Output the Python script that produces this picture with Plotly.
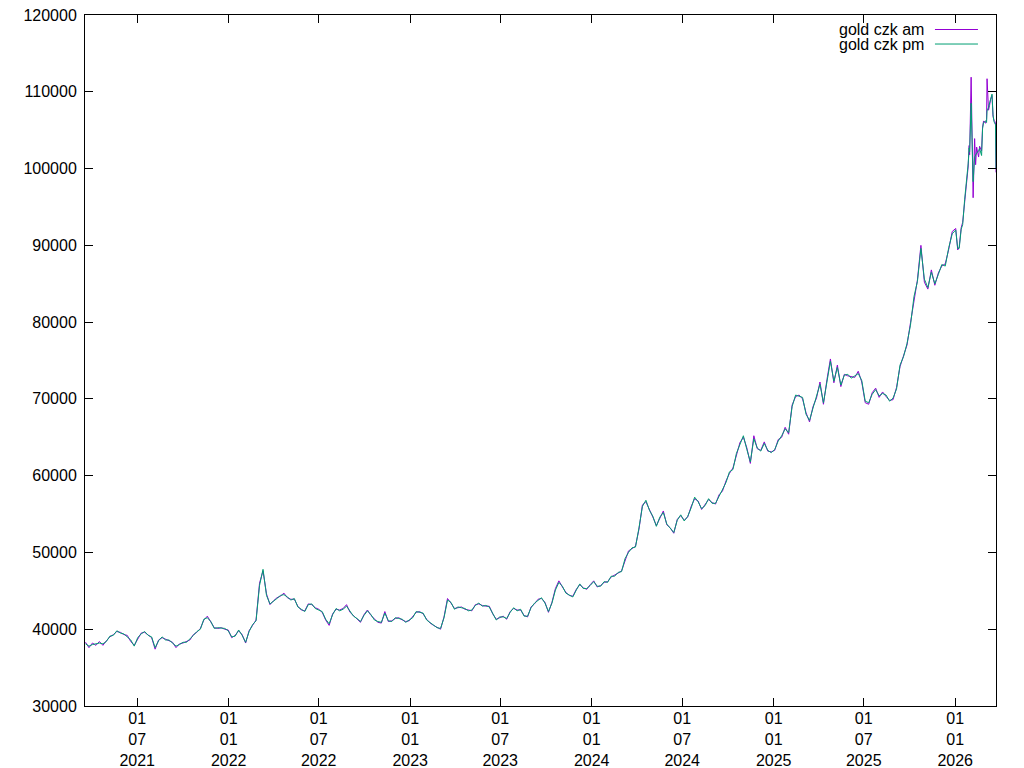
import pandas as pd
import plotly.graph_objects as go

# weekly readings, starting 2021-03-19
am_weekly = [
    38300, 37600, 38200, 37900, 38400,
    37900, 38500, 39000, 39300, 39700,
    39600, 39300, 39200, 38400, 37900,
    38800, 39500, 39600, 39300, 38900,
    37400, 38600, 38900, 38700, 38500,
    38300, 37600, 38100, 38200, 38400,
    38600, 39300, 39600, 40100, 41200,
    41700, 40900, 40200, 40100, 40200,
    40000, 39900, 38900, 39200, 39800,
    39300, 38200, 39800, 40500, 41200,
    46000, 47600, 44600, 43200, 43700,
    44100, 44300, 44700, 44100, 43900,
    43900, 43000, 42500, 42400, 43300,
    43200, 42800, 42600, 42200, 41200,
    40500, 42000, 42600, 42500, 42700,
    43200, 42200, 41800, 41300, 40900,
    41900, 42500, 41800, 41300, 40900,
    40800, 42300, 41000, 41100, 41400,
    41500, 41200, 41000, 41100, 41600,
    42200, 42300, 42000, 41300, 40800,
    40500, 40300, 40000, 41600, 44000,
    43400, 42700, 42800, 42900, 42600,
    42500, 42400, 43200, 43300, 43100,
    43000, 43000, 42000, 41300, 41500,
    41700, 41300, 42300, 42700, 42500,
    42500, 41800, 41600, 42900, 43300,
    43900, 44000, 43500, 42200, 43500,
    45300, 46300, 45500, 44800, 44400,
    44300, 45200, 45800, 45400, 45200,
    45800, 46300, 45500, 45700, 46100,
    46200, 46800, 47000, 47300, 47600,
    49000, 50200, 50500, 50800, 53000,
    56200, 56600, 55700, 54600, 53500,
    54500, 55400, 53600, 53200, 52500,
    54300, 54800, 54200, 54600, 56000,
    57000, 56700, 55600, 56200, 56900,
    56500, 56300, 57500, 58000, 59300,
    60300, 61000, 62700, 64300, 65000,
    63600, 61600, 65200, 63500, 63300,
    64400, 63200, 63100, 63300, 64700,
    65000, 66300, 65400, 69200, 70300,
    70500, 70000, 68200, 67000, 69000,
    70100, 72200, 69300, 72500, 75200,
    72100, 74400, 71600, 73200, 73000,
    72900, 72800, 73600, 72200, 69500,
    69300, 70800, 71400, 70200, 70900,
    70300, 69800, 69900, 71500, 74200,
    75700, 77000, 79900, 83000, 85500,
    90000, 85200, 84300, 86800, 84800,
    86400, 87300, 87600, 89500, 91800,
    92200,
]
pm_weekly = [
    38100, 37800, 38000, 38100, 38200,
    38100, 38400, 39100, 39200, 39800,
    39500, 39400, 39000, 38600, 37800,
    38900, 39400, 39700, 39200, 39000,
    37600, 38500, 39000, 38600, 38600,
    38200, 37800, 38000, 38300, 38300,
    38700, 39200, 39700, 40000, 41300,
    41500, 41000, 40100, 40200, 40100,
    40100, 39800, 39000, 39100, 39900,
    39200, 38300, 39700, 40600, 41100,
    45700, 47800, 44400, 43300, 43600,
    44000, 44400, 44500, 44200, 43800,
    44000, 42900, 42600, 42300, 43200,
    43300, 42700, 42500, 42300, 41300,
    40700, 41900, 42700, 42400, 42600,
    43000, 42300, 41700, 41400, 41000,
    41800, 42400, 41900, 41200, 41000,
    40900, 42100, 41100, 41000, 41500,
    41400, 41300, 40900, 41200, 41500,
    42300, 42200, 42100, 41200, 40900,
    40600, 40200, 40100, 41500, 43800,
    43500, 42600, 42900, 42800, 42700,
    42400, 42500, 43100, 43400, 43000,
    43100, 42900, 42100, 41200, 41600,
    41600, 41400, 42200, 42800, 42400,
    42600, 41700, 41700, 42800, 43400,
    43800, 44100, 43400, 42300, 43400,
    45100, 46100, 45600, 44700, 44500,
    44200, 45100, 45900, 45300, 45300,
    45700, 46200, 45600, 45600, 46200,
    46100, 46900, 46900, 47400, 47500,
    49200, 50000, 50600, 50700, 53200,
    56000, 56800, 55500, 54700, 53400,
    54600, 55200, 53700, 53100, 52600,
    54200, 54900, 54100, 54700, 55800,
    57200, 56600, 55700, 56100, 57000,
    56400, 56400, 57300, 58100, 59100,
    60500, 60800, 62900, 64100, 65200,
    63400, 61800, 64800, 63600, 63200,
    64200, 63300, 63000, 63400, 64500,
    65200, 66100, 65600, 69000, 70500,
    70300, 70200, 68000, 67200, 68800,
    70300, 71900, 69500, 72300, 74900,
    72300, 74100, 71800, 73100, 73200,
    72700, 73000, 73300, 72400, 69700,
    69500, 70600, 71200, 70400, 70700,
    70500, 69700, 70100, 71300, 74400,
    75500, 77200, 79600, 83300, 85300,
    89600, 85600, 84500, 86500, 85000,
    86200, 87500, 87300, 89700, 91500,
    92000,
]

# denser readings for 2026
late_dates = [
    "2026-01-06", "2026-01-09", "2026-01-13", "2026-01-16", "2026-01-20",
    "2026-01-23", "2026-01-27", "2026-01-29", "2026-01-30", "2026-02-02",
    "2026-02-04", "2026-02-05", "2026-02-06", "2026-02-09", "2026-02-11",
    "2026-02-13", "2026-02-17", "2026-02-19", "2026-02-23", "2026-02-25",
    "2026-02-27", "2026-03-03", "2026-03-05", "2026-03-06", "2026-03-09",
    "2026-03-11", "2026-03-13", "2026-03-16", "2026-03-18", "2026-03-20",
    "2026-03-23", "2026-03-24",
]
am_late = [
    89400, 89800, 92300, 93000, 96200,
    97600, 100200, 103000, 101800, 111900,
    104000, 98000, 96200, 103900, 100500,
    102800, 101500, 102900, 102300, 105400,
    106200, 105900, 106400, 111700, 107600,
    108200, 109000, 109500, 106800, 106300,
    106000, 99500,
]
pm_late = [
    89600, 89600, 92100, 92700, 96000,
    97800, 100600, 102700, 102200, 108500,
    103500, 99500, 98300, 101500, 101800,
    102000, 102300, 102600, 101700, 105200,
    106000, 106200, 106000, 107500, 108000,
    108600, 108800, 109700, 107000, 106100,
    105700, 100000,
]

tick_vals = ["2021-07-01", "2022-01-01", "2022-07-01", "2023-01-01", "2023-07-01",
             "2024-01-01", "2024-07-01", "2025-01-01", "2025-07-01", "2026-01-01"]
tick_text = ["01<br>07<br>2021", "01<br>01<br>2022", "01<br>07<br>2022", "01<br>01<br>2023",
             "01<br>07<br>2023", "01<br>01<br>2024", "01<br>07<br>2024", "01<br>01<br>2025",
             "01<br>07<br>2025", "01<br>01<br>2026"]
y_ticks = [30000, 40000, 50000, 60000, 70000, 80000, 90000, 100000, 110000, 120000]

weekly_dates = list(pd.date_range("2021-03-19", periods=len(am_weekly), freq="7D"))
dates = weekly_dates + list(pd.to_datetime(late_dates))
am = am_weekly + am_late
pm = pm_weekly + pm_late

AM_COLOR = "#9400d3"
PM_COLOR = "#009e73"
FONT = "Liberation Sans, Arial, sans-serif"
FS = 16

fig = go.Figure()
fig.add_trace(go.Scatter(x=dates, y=am, mode="lines", name="gold czk am",
                         line=dict(color=AM_COLOR, width=1)))
fig.add_trace(go.Scatter(x=dates, y=pm, mode="lines", name="gold czk pm",
                         line=dict(color=PM_COLOR, width=1)))

axis_common = dict(showline=True, linecolor="black", linewidth=1, mirror="ticks",
                   ticks="inside", ticklen=8, tickcolor="black", showgrid=False,
                   zeroline=False, automargin=False, ticklabeloverflow="allow",
                   tickfont=dict(family=FONT, size=FS, color="black"))

fig.update_xaxes(type="date", range=["2021-03-18", "2026-03-24"],
                 tickmode="array", tickvals=tick_vals, ticktext=tick_text,
                 ticklabelstandoff=-2, **axis_common)
fig.update_yaxes(range=[30000, 120000], tickmode="array", tickvals=y_ticks,
                 ticktext=[str(v) for v in y_ticks], ticklabelstandoff=4, **axis_common)

# gnuplot-style key: text on the left, sample line on the right
legend_items = [("gold czk am", AM_COLOR, 0.9790), ("gold czk pm", PM_COLOR, 0.9580)]
for label, color, yy in legend_items:
    fig.add_annotation(xref="paper", yref="paper", x=0.9232, y=yy, text=label,
                       showarrow=False, xanchor="right", yanchor="middle",
                       font=dict(family=FONT, size=FS, color="black"))
    fig.add_shape(type="line", xref="paper", yref="paper", x0=0.9330, x1=0.9802,
                  y0=yy, y1=yy, line=dict(color=color, width=1))

# page body has an 8px default margin; figure size/margins compensate for it
fig.update_layout(width=1016, height=760, showlegend=False,
                  margin=dict(l=77, r=28, t=7, b=62, autoexpand=False),
                  paper_bgcolor="white", plot_bgcolor="white",
                  font=dict(family=FONT, size=FS, color="black"))

fig.write_html("out.html", config={"displayModeBar": False})
